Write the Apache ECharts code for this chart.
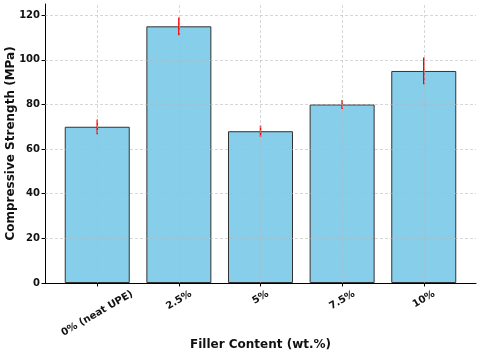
<!DOCTYPE html>
<html>
<head>
<meta charset="utf-8">
<script src="https://cdn.jsdelivr.net/npm/echarts@6.0.0/dist/echarts.min.js"></script>
<style>
  body { margin: 0; padding: 0; background: #fff; }
  #main { width: 480px; height: 355px; }
</style>
</head>
<body>
<div id="main"></div>
<script>
var categories = ['0% (neat UPE)', '2.5%', '5%', '7.5%', '10%'];
var positions = [0, 1, 2, 3, 4];
var strength = [70, 115, 68, 80, 95];
var errors = [3.3, 4, 2.5, 2, 6];
var yTicks = [0, 20, 40, 60, 80, 100, 120];

var FONT = '"DejaVu Sans", sans-serif';
var LABEL_FONT = 'bold 10px ' + FONT;
var measure = document.createElement('canvas').getContext('2d');
measure.font = LABEL_FONT;

var barData = positions.map(function (p, i) { return [p, strength[i]]; });
var errData = positions.map(function (p, i) { return [p, strength[i], errors[i], i]; });

var gridLine = {color: '#b8b8b8', type: [3, 2], width: 0.8, opacity: 0.7};

var chart = echarts.init(document.getElementById('main'));
chart.setOption({
  animation: false,
  textStyle: {fontFamily: FONT},
  grid: {left: 45, right: 4, top: 4, bottom: 72, outerBoundsMode: 'none', containLabel: false},
  xAxis: {
    type: 'value', min: -0.64, max: 4.64,
    name: 'Filler Content (wt.%)', nameLocation: 'middle', nameGap: 56, nameMoveOverlap: false,
    nameTextStyle: {fontWeight: 'bold', fontSize: 12, color: '#111'},
    axisLine: {onZero: false, lineStyle: {color: '#000', width: 1}},
    axisTick: {customValues: positions, length: 3.5, lineStyle: {color: '#000'}},
    axisLabel: {show: false},
    splitLine: {show: false}
  },
  yAxis: {
    type: 'value', min: 0, max: 125,
    name: 'Compressive Strength (MPa)', nameLocation: 'middle', nameGap: 28, nameMoveOverlap: false,
    nameTextStyle: {fontWeight: 'bold', fontSize: 12, color: '#111'},
    axisLine: {show: true, onZero: false, lineStyle: {color: '#000', width: 1}},
    axisTick: {show: true, customValues: yTicks, length: 3.5, lineStyle: {color: '#000'}},
    axisLabel: {customValues: yTicks, fontWeight: 'bold', fontSize: 10, color: '#111', margin: 5},
    splitLine: {show: false}
  },
  series: [
    {
      type: 'bar',
      data: barData,
      barWidth: 65,
      itemStyle: {color: '#87CEEB', borderColor: '#333', borderWidth: 1},
      z: 2,
      markLine: {
        silent: true, symbol: 'none', label: {show: false},
        lineStyle: gridLine,
        data: positions.map(function (p) { return {xAxis: p}; })
          .concat(yTicks.slice(1).map(function (t) { return {yAxis: t}; }))
      }
    },
    {
      type: 'custom',
      data: errData,
      z: 4,
      renderItem: function (params, api) {
        var x = api.value(0), v = api.value(1), e = api.value(2);
        var top = api.coord([x, v + e]);
        var bot = api.coord([x, v - e]);
        var base = api.coord([x, 0]);
        var label = categories[api.value(3)];
        var w = measure.measureText(label).width;
        var h = 10;
        var bh = w * 0.5 + h * 0.866;
        return {
          type: 'group',
          children: [
            {type: 'line', shape: {x1: top[0], y1: top[1], x2: bot[0], y2: bot[1]},
             style: {stroke: '#ff0000', lineWidth: 1.5}},
            {type: 'text', x: base[0], y: base[1] + 6 + bh / 2, rotation: Math.PI / 6,
             style: {text: label, font: LABEL_FONT, fill: '#111', align: 'center', verticalAlign: 'middle'}}
          ]
        };
      }
    }
  ]
});
</script>
</body>
</html>
